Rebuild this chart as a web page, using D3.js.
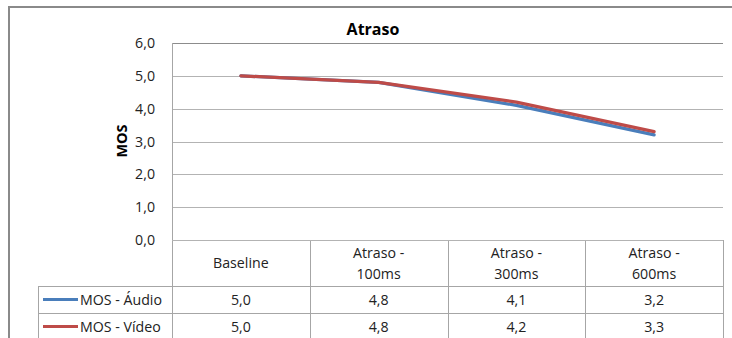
<!DOCTYPE html>
<html>
<head>
<meta charset="utf-8">
<script src="https://cdn.jsdelivr.net/npm/d3@7"></script>
<style>
  html, body { margin: 0; padding: 0; background: #fff; }
  svg { display: block; font-family: "Open Sans", "Noto Sans", sans-serif; }
</style>
</head>
<body>
<svg id="chart" width="732" height="338"></svg>
<script>
// Chart content
const title = "Atraso";
const yTitle = "MOS";
const categories = ["Baseline", "Atraso - 100ms", "Atraso - 300ms", "Atraso - 600ms"];
const categoryLines = [["Baseline"], ["Atraso -", "100ms"], ["Atraso -", "300ms"], ["Atraso -", "600ms"]];
const seriesNames = ["MOS - Áudio", "MOS - Vídeo"];
const audioValues = [5.0, 4.8, 4.1, 3.2];
const videoValues = [5.0, 4.8, 4.2, 3.3];
const yTicks = [0, 1, 2, 3, 4, 5, 6];
const seriesColors = ["#4a7ebb", "#be4b48"];

const series = [
  { name: seriesNames[0], values: audioValues, color: seriesColors[0] },
  { name: seriesNames[1], values: videoValues, color: seriesColors[1] }
];

const fmt = v => d3.format(".1f")(v).replace(".", ",");
const textColor = "#222";
const fs = 14.2;

const svg = d3.select("#chart");

// Layout
const plot = { left: 172, right: 723, top: 43, bottom: 240 };
const headerH = 46, rowH = 27;
const legendLeft = 38;

const x = d3.scaleBand().domain(categories).range([plot.left, plot.right]).padding(0);
const y = d3.scaleLinear().domain([0, 6]).range([plot.bottom, plot.top]);
const cx = c => x(c) + x.bandwidth() / 2;

// Outer chart frame (extends past the right and bottom edges)
svg.append("rect")
  .attr("x", 9).attr("y", 7)
  .attr("width", 760).attr("height", 360)
  .attr("fill", "none").attr("stroke", "#8a8a8a").attr("stroke-width", 2);

// Title
svg.append("text")
  .attr("x", 373).attr("y", 35)
  .attr("text-anchor", "middle")
  .attr("font-size", 16).attr("font-weight", "bold")
  .attr("fill", "#000")
  .text(title);

// Gridlines
svg.append("g")
  .selectAll("line")
  .data(yTicks)
  .join("line")
  .attr("x1", plot.left).attr("x2", plot.right)
  .attr("y1", d => Math.round(y(d)) + 0.5).attr("y2", d => Math.round(y(d)) + 0.5)
  .attr("stroke", d => d === 6 ? "#8c8c8c" : "#b3b3b3")
  .attr("stroke-width", 1);

// Y axis labels
const yAxis = d3.axisLeft(y).tickValues(yTicks).tickFormat(fmt).tickSize(0).tickPadding(17);
const yg = svg.append("g").attr("transform", `translate(${plot.left},0)`).call(yAxis);
yg.select(".domain").remove();
yg.selectAll("text")
  .attr("font-size", fs)
  .attr("fill", textColor)
  .attr("font-family", "'Open Sans', 'Noto Sans', sans-serif");

// Y axis title
svg.append("text")
  .attr("transform", `translate(127,141) rotate(-90)`)
  .attr("text-anchor", "middle")
  .attr("font-size", 14.5).attr("font-weight", "bold")
  .attr("fill", "#000")
  .text(yTitle);

// Series lines
const line = d3.line()
  .x((d, i) => cx(categories[i]))
  .y(d => y(d));

svg.append("g")
  .selectAll("path")
  .data(series)
  .join("path")
  .attr("d", d => line(d.values))
  .attr("fill", "none")
  .attr("stroke", d => d.color)
  .attr("stroke-width", 3.2)
  .attr("stroke-linecap", "round")
  .attr("stroke-linejoin", "round");

// Data table
const tableTop = plot.bottom;
const gridColor = "#a6a6a6";
const tbl = svg.append("g");

// Value axis line, running from the plot top through the table
tbl.append("line")
  .attr("x1", plot.left + 0.5).attr("x2", plot.left + 0.5)
  .attr("y1", plot.top).attr("y2", 338)
  .attr("stroke", gridColor);

// Column separators inside the table
const colEdges = categories.map(c => x(c) + x.bandwidth());
tbl.selectAll("line.col")
  .data(colEdges)
  .join("line")
  .attr("class", "col")
  .attr("x1", d => Math.round(d) + 0.5).attr("x2", d => Math.round(d) + 0.5)
  .attr("y1", tableTop).attr("y2", 338)
  .attr("stroke", gridColor);

// Horizontal separators
const rowLines = [tableTop, tableTop + headerH, tableTop + headerH + rowH];
rowLines.forEach((ry, i) => {
  tbl.append("line")
    .attr("x1", i === 0 ? plot.left : legendLeft).attr("x2", plot.right)
    .attr("y1", Math.round(ry) + 0.5).attr("y2", Math.round(ry) + 0.5)
    .attr("stroke", i === 0 ? "#b3b3b3" : gridColor);
});
// Legend column left edge
tbl.append("line")
  .attr("x1", legendLeft + 0.5).attr("x2", legendLeft + 0.5)
  .attr("y1", tableTop + headerH).attr("y2", 338)
  .attr("stroke", gridColor);

// Header labels
categories.forEach((c, i) => {
  const lines = categoryLines[i];
  const t = tbl.append("text")
    .attr("text-anchor", "middle")
    .attr("font-size", fs)
    .attr("fill", textColor);
  const lh = 21;
  const startY = tableTop + headerH / 2 - (lines.length - 1) * lh / 2 + 5;
  lines.forEach((s, k) => {
    t.append("tspan").attr("x", cx(c)).attr("y", startY + k * lh).text(s);
  });
});

// Value rows with legend keys
series.forEach((s, r) => {
  const midY = tableTop + headerH + rowH * r + rowH / 2;
  tbl.append("line")
    .attr("x1", 43).attr("x2", 78)
    .attr("y1", midY).attr("y2", midY)
    .attr("stroke", s.color).attr("stroke-width", 3.2);
  tbl.append("text")
    .attr("x", 80).attr("y", midY + 5)
    .attr("font-size", fs).attr("fill", textColor)
    .text(s.name);
  tbl.selectAll(null)
    .data(s.values)
    .join("text")
    .attr("x", (d, i) => cx(categories[i]))
    .attr("y", midY + 5)
    .attr("text-anchor", "middle")
    .attr("font-size", fs).attr("fill", textColor)
    .text(d => fmt(d));
});
</script>
</body>
</html>
